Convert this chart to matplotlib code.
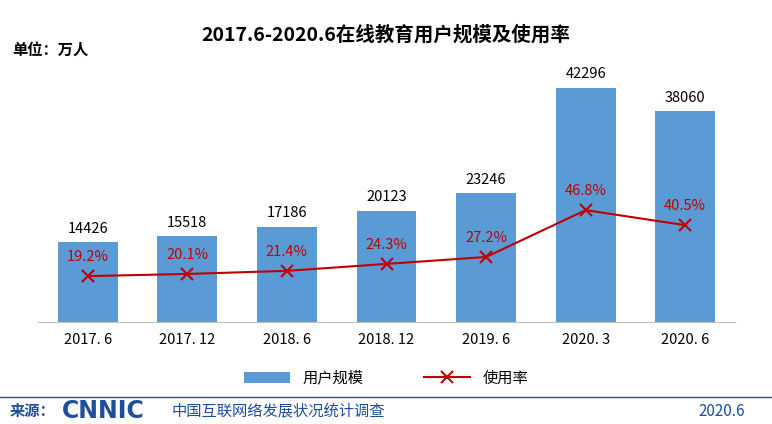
import matplotlib.pyplot as plt
import numpy as np

plt.rcParams['font.family'] = ['Noto Sans CJK SC', 'DejaVu Sans']

periods = ['2017.6', '2017.12', '2018.6', '2018.12', '2019.6', '2020.3', '2020.6']
users = [14426, 15518, 17186, 20123, 23246, 42296, 38060]
rate = [19.2, 20.1, 21.4, 24.3, 27.2, 46.8, 40.5]

W, H = 772, 424
fig = plt.figure(figsize=(W / 100, H / 100), dpi=100)
ax = fig.add_axes([38 / W, 1 - 322 / H, 697 / W, 262 / H])
ax2 = ax.twinx()

x = np.arange(len(periods))
bars = ax.bar(x, users, width=0.6, color='#5B9BD5', label='用户规模')
for xi, v in zip(x, users):
    ax.text(xi, v + 1200, str(v), ha='center', va='bottom', fontsize=10.5)
ax.set_xlim(-0.5, len(periods) - 0.5)
ax.set_ylim(0, 47357)
ax.set_yticks([])
ax.set_xticks(x)
ax.set_xticklabels([p.replace('.', '. ') for p in periods], fontsize=10.5)
ax.tick_params(axis='x', length=0, pad=8)

line, = ax2.plot(x, rate, color='#C00000', marker='x', markersize=8,
                 markeredgewidth=1.5, linewidth=1.5, label='使用率')
for xi, r in zip(x, rate):
    ax2.text(xi, r + 5, f'{r}%', ha='center', va='bottom', fontsize=10.5, color='#C00000')
ax2.set_ylim(0, 109.6)
ax2.set_yticks([])

for a in (ax, ax2):
    for s in ('top', 'right', 'left'):
        a.spines[s].set_visible(False)
ax.spines['bottom'].set_color('#BFBFBF')
ax2.spines['bottom'].set_visible(False)

fig.legend([bars, line], ['用户规模', '使用率'], loc='center', bbox_to_anchor=(0.5, 1 - 378 / H),
           ncol=2, frameon=False, fontsize=11, columnspacing=4, handlelength=3)

fig.text(0.5, 1 - 35 / H, '2017.6-2020.6在线教育用户规模及使用率', ha='center', va='center',
         fontsize=14, fontweight='bold')
fig.text(12 / W, 1 - 50 / H, '单位：万人', ha='left', va='center', fontsize=11, fontweight='bold')

fig.add_artist(plt.Line2D([0, 1], [1 - 397 / H] * 2, color='#1F4E9C', linewidth=1))
fig.text(10 / W, 1 - 411 / H, '来源：', ha='left', va='center', fontsize=11, color='#1F4E9C', fontweight='bold')
fig.text(62 / W, 1 - 411 / H, 'CNNIC', ha='left', va='center', fontsize=17, color='#1F4E9C',
         fontweight='bold', family='DejaVu Sans')
fig.text(172 / W, 1 - 411 / H, '中国互联网络发展状况统计调查', ha='left', va='center', fontsize=11, color='#1F4E9C')
fig.text(745 / W, 1 - 411 / H, '2020.6', ha='right', va='center', fontsize=11, color='#1F4E9C')

fig.savefig('out.png', dpi=100)
